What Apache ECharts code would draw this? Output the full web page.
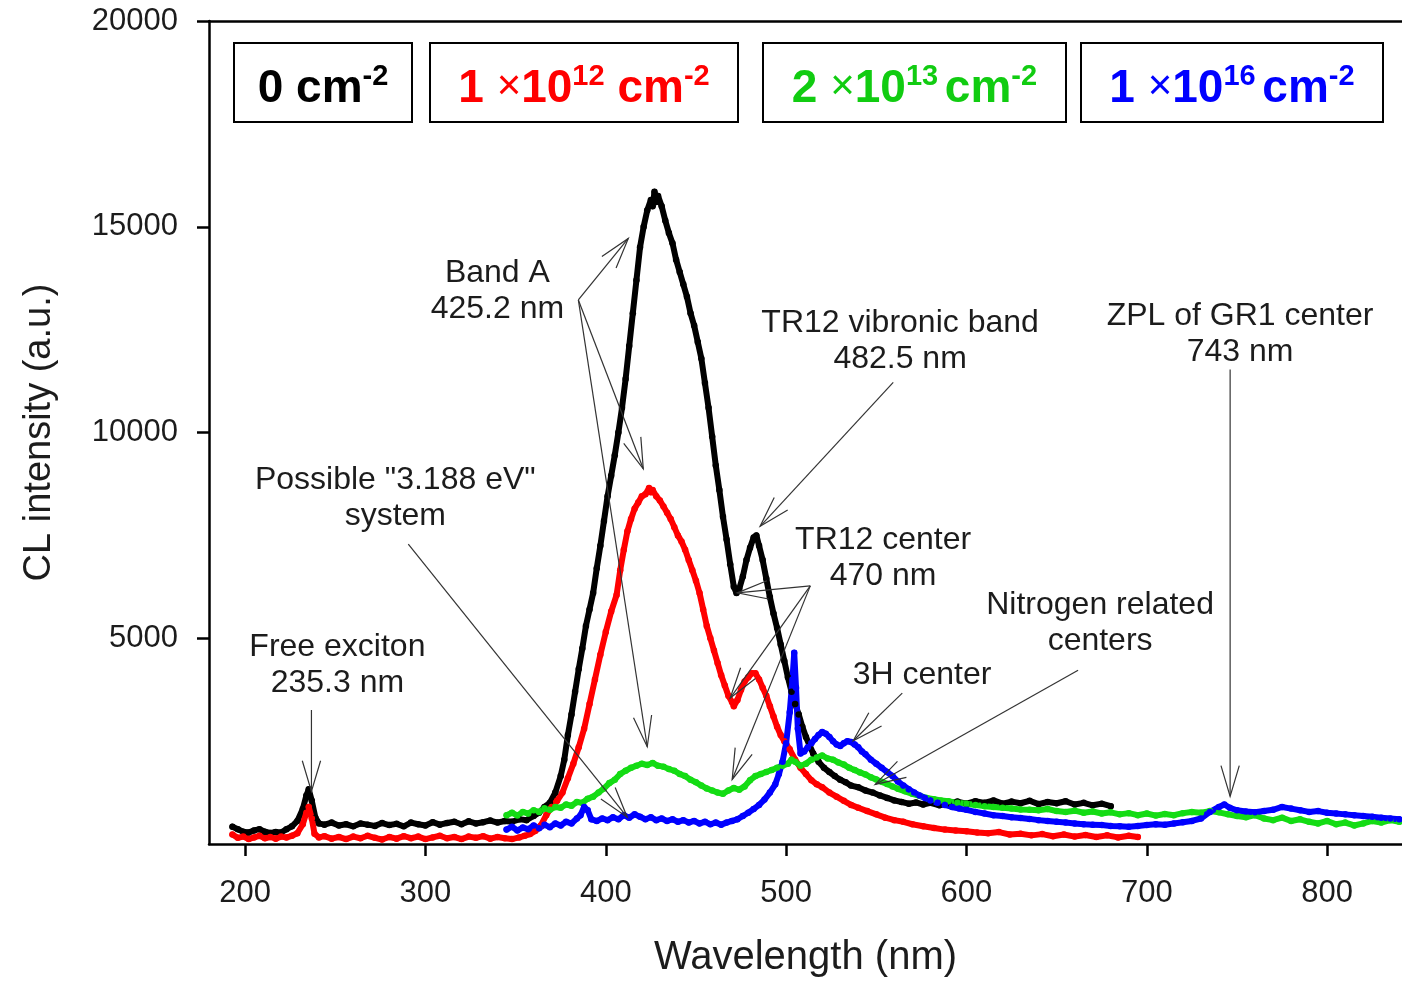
<!DOCTYPE html>
<html>
<head>
<meta charset="utf-8">
<script src="https://cdn.jsdelivr.net/npm/echarts@6/dist/echarts.min.js"></script>
<style>
  html, body { margin: 0; padding: 0; background: #fff; }
  #chart { width: 1402px; height: 983px; }
</style>
</head>
<body>
<div id="chart"></div>
<script>
// Cathodoluminescence spectra of diamond after implantation at four fluences.
// Each spectrum is a list of [wavelength (nm), CL intensity (a.u.)] pairs.

const xTicks = [200, 300, 400, 500, 600, 700, 800];
const yTicks = [5000, 10000, 15000, 20000];

const fluenceLabels = ['0 cm-2', '1 x10^12 cm-2', '2 x10^13 cm-2', '1 x10^16 cm-2'];

// 0 cm^-2 (unimplanted)
const spec0 = [
  [193,420],[196,360],[199,300],[202,280],[205,330],[208,360],[211,300],[214,270],[217,290],[220,280],
  [223,360],[226,430],[229,560],[232,850],[234,1180],[235.3,1330],[237,1050],[239,640],[241,500],[244,470],
  [248,520],[252,450],[256,480],[260,430],[264,500],[268,470],[272,440],[276,510],[280,460],[284,490],
  [288,430],[292,520],[296,480],[300,450],[304,530],[308,470],[312,510],[316,540],[320,480],[324,550],
  [328,500],[332,530],[336,570],[340,520],[344,560],[348,540],[352,600],[356,580],[360,680],[363,760],
  [366,900],[369,1000],[372,1250],[375,1650],[377,2050],[379,2650],[381,3150],[383,3700],[385,4250],[387,4750],
  [389,5300],[391,5700],[393,6100],[395,6700],[397,7250],[399,7850],[401,8450],[403,8950],[405,9450],[407,10000],
  [409,10600],[411,11300],[413,12100],[415,12900],[417,13700],[419,14500],[421,15000],[423,15400],[425,15650],[426,15500],
  [427,15850],[428,15600],[429,15750],[431,15500],[433,15150],[435,14850],[437,14600],[439,14200],[441,13900],[443,13600],
  [445,13300],[447,12900],[449,12600],[451,12200],[453,11800],[455,11200],[457,10600],[459,9900],[461,9200],[463,8600],
  [465,7950],[467,7400],[469,6800],[471,6250],[472.5,6100],[474,6200],[476,6500],[478,6900],[480,7200],[482,7450],
  [483.5,7500],[485,7250],[487,6900],[489,6450],[491,6000],[493,5600],[495,5250],[497,4850],[499,4450],[501,4050],
  [503,3700],[505,3400],[507,3150],[509,2850],[511,2600],[513,2400],[515,2200],[518,2000],[521,1850],[524,1750],
  [527,1650],[530,1560],[533,1500],[536,1420],[540,1380],[544,1300],[548,1250],[552,1180],[556,1120],[560,1060],
  [564,1020],[568,980],[572,1010],[576,960],[580,1000],[585,940],[590,990],[595,1030],[600,980],[605,1040],
  [610,1000],[615,1060],[620,980],[625,1030],[630,990],[635,1050],[640,970],[645,1020],[650,990],[655,1040],
  [660,960],[665,1000],[670,940],[675,980],[680,920]
];

// 1 x 10^12 cm^-2
const spec12 = [
  [193,230],[196,150],[199,180],[202,120],[205,160],[208,200],[211,140],[214,170],[217,130],[220,180],
  [223,160],[226,200],[229,260],[232,480],[234,760],[235.3,900],[237,620],[238.5,250],[241,160],[244,190],
  [248,130],[252,170],[256,120],[260,180],[264,140],[268,200],[272,150],[276,110],[280,170],[284,130],
  [288,190],[292,140],[296,180],[300,120],[304,160],[308,200],[312,140],[316,170],[320,120],[324,180],
  [328,150],[332,190],[336,130],[340,170],[344,140],[348,120],[352,160],[355,200],[358,240],[361,320],
  [364,450],[367,700],[370,900],[373,1050],[376,1250],[379,1600],[382,1950],[385,2350],[388,2800],[391,3400],
  [394,4000],[397,4600],[400,5150],[403,5650],[406,6050],[408,6650],[410,7150],[412,7600],[414,7900],[416,8150],
  [418,8300],[420,8450],[422,8500],[424,8650],[425,8550],[426,8600],[428,8450],[430,8350],[432,8200],[434,8050],
  [436,7900],[438,7700],[440,7500],[442,7350],[444,7150],[446,6900],[448,6650],[450,6400],[452,6100],[454,5700],
  [456,5300],[458,5000],[460,4700],[462,4400],[464,4100],[466,3850],[468,3600],[470,3450],[471,3350],[473,3500],
  [475,3750],[477,3950],[479,4050],[481,4150],[483,4150],[485,4000],[487,3800],[489,3600],[491,3350],[493,3100],
  [495,2850],[497,2650],[499,2500],[502,2300],[505,2050],[508,1850],[511,1700],[514,1550],[517,1450],[520,1380],
  [524,1250],[528,1150],[532,1050],[536,950],[540,880],[545,800],[550,720],[555,640],[560,580],[565,540],
  [570,480],[576,430],[582,390],[588,350],[594,330],[600,310],[606,280],[612,260],[618,290],[624,230],
  [630,250],[636,210],[642,240],[648,190],[654,230],[660,180],[666,220],[672,170],[678,210],[684,160],
  [690,200],[695,170]
];

// 2 x 10^13 cm^-2
const spec13 = [
  [345,700],[348,760],[351,690],[354,780],[357,740],[360,820],[363,780],[366,870],[369,830],[372,900],
  [375,880],[378,960],[381,930],[384,1020],[387,1000],[390,1100],[393,1150],[396,1250],[399,1350],[402,1480],
  [405,1560],[408,1700],[411,1780],[414,1850],[417,1900],[420,1950],[423,1920],[426,1970],[429,1900],[432,1880],
  [435,1820],[438,1780],[441,1700],[444,1650],[447,1560],[450,1500],[453,1420],[456,1350],[459,1300],[462,1250],
  [465,1220],[468,1300],[471,1360],[474,1320],[477,1400],[480,1550],[483,1650],[486,1700],[489,1750],[492,1800],
  [495,1850],[498,1900],[501,1950],[503,2050],[505,2000],[508,1900],[511,1950],[514,2050],[517,2100],[520,2150],
  [523,2080],[526,2050],[529,1980],[532,1930],[535,1850],[538,1800],[541,1740],[544,1690],[547,1620],[550,1570],
  [553,1510],[556,1460],[559,1400],[562,1340],[566,1280],[570,1220],[574,1170],[578,1120],[582,1090],[586,1060],
  [590,1040],[595,1000],[600,980],[605,950],[610,920],[615,900],[620,880],[625,860],[630,840],[635,830],
  [640,820],[645,850],[650,800],[655,780],[660,810],[665,760],[670,790],[675,740],[680,770],[685,720],
  [690,750],[695,700],[700,740],[705,690],[710,730],[715,700],[720,750],[725,780],[730,760],[735,800],
  [740,770],[745,720],[750,680],[755,650],[760,700],[765,620],[770,580],[775,640],[780,560],[785,600],
  [790,540],[795,500],[800,560],[805,480],[810,520],[815,450],[820,500],[825,560],[830,520],[835,580],
  [840,540]
];

// 1 x 10^16 cm^-2
const spec16 = [
  [345,350],[348,420],[351,330],[354,400],[357,360],[360,450],[363,380],[366,470],[369,410],[372,500],
  [375,450],[378,540],[381,500],[384,620],[386,700],[388,900],[390,820],[392,600],[395,560],[398,620],
  [401,580],[404,650],[407,600],[410,700],[413,640],[416,720],[419,660],[422,600],[425,650],[428,580],
  [431,620],[434,560],[437,600],[440,540],[443,580],[446,520],[449,560],[452,500],[455,540],[458,480],
  [461,520],[464,470],[467,520],[470,560],[473,600],[476,680],[479,760],[482,850],[485,950],[488,1080],
  [491,1250],[494,1450],[496,1700],[498,2000],[500,2450],[502,3200],[503.5,4000],[504.5,4650],[505.5,3800],[506.5,2800],
  [508,2200],[510,2250],[512,2350],[514,2450],[516,2550],[518,2650],[520,2720],[522,2680],[524,2600],[526,2500],
  [528,2420],[530,2380],[532,2450],[534,2500],[536,2480],[538,2420],[540,2350],[542,2250],[544,2180],[547,2050],
  [550,1950],[553,1850],[556,1750],[559,1650],[562,1520],[565,1420],[568,1330],[571,1250],[574,1180],[577,1120],
  [580,1060],[584,1000],[588,950],[592,900],[596,860],[600,830],[605,780],[610,740],[615,700],[620,680],
  [625,650],[630,630],[635,610],[640,580],[645,560],[650,540],[655,520],[660,500],[665,480],[670,470],
  [675,460],[680,440],[685,430],[690,420],[695,440],[700,460],[705,480],[710,470],[715,500],[720,530],
  [725,560],[730,620],[735,780],[740,900],[743,960],[746,880],[750,820],[755,790],[760,770],[765,800],
  [770,830],[775,900],[780,860],[785,820],[790,780],[795,800],[800,760],[805,740],[810,720],[815,700],
  [820,680],[825,660],[830,640],[835,620],[840,600]
];

// Feature annotations, anchored in data space: text lines centred at `at`,
// leader lines drawn from `from` to each arrow tip.
const notes = [
  { lines: ['Free exciton', '235.3 nm'], at: [251.2, 4777], from: [236.8, 3257], tips: [[236.8, 1279]] },
  { lines: ['Band A', '425.2 nm'], at: [339.9, 13872], from: [384.8, 13221],
    tips: [[412.5, 14716], [420.8, 9119], [423.0, 2364]] },
  { lines: ['Possible "3.188 eV"', 'system'], at: [283.3, 8830], from: [290.5, 7286], tips: [[411.9, 651]] },
  { lines: ['TR12 vibronic band', '482.5 nm'], at: [563.2, 12666], from: [559.4, 11218], tips: [[485.6, 7720]] },
  { lines: ['TR12 center', '470 nm'], at: [553.8, 7382], from: [513.4, 6273],
    tips: [[472.9, 6104], [469.0, 3546], [470.1, 1568]] },
  { lines: ['3H center'], at: [575.4, 4101], from: [564.4, 3667], tips: [[537.2, 2509]] },
  { lines: ['Nitrogen related', 'centers'], at: [674.1, 5814], from: [661.9, 4222], tips: [[549.4, 1448]] },
  { lines: ['ZPL of GR1 center', '743 nm'], at: [751.7, 12835], from: [746.2, 11532], tips: [[746.2, 1158]] }
];

const FONT = '"Liberation Sans", Arial, sans-serif';
const INK = '#1c1c1c';
const COLORS = ['#000000', '#ff0000', '#14dc14', '#0000ff'];

const chart = echarts.init(document.getElementById('chart'), null, { renderer: 'canvas' });

const axisLineStyle = { color: '#000', width: 2.5 };

function spectrumSeries(name, data, color) {
  return {
    name: name,
    type: 'line',
    data: data,
    showSymbol: true,
    symbol: 'circle',
    symbolSize: 6.5,
    smooth: false,
    lineStyle: { color: color, width: 6, join: 'round', cap: 'round' },
    itemStyle: { color: color, borderWidth: 0 },
    emphasis: { disabled: true },
    clip: true
  };
}

chart.setOption({
  animation: false,
  backgroundColor: '#ffffff',
  grid: { left: 209, right: 0, top: 21, bottom: 133, containLabel: false },
  xAxis: [
    {
      type: 'value', min: 180, max: 841.5,
      axisLine: { show: true, onZero: false, lineStyle: axisLineStyle },
      axisTick: { show: true, customValues: xTicks, length: 12, lineStyle: axisLineStyle },
      axisLabel: { customValues: xTicks, margin: 34, fontSize: 31, fontFamily: FONT, color: INK },
      splitLine: { show: false },
      name: 'Wavelength (nm)', nameLocation: 'middle', nameGap: 94,
      nameTextStyle: { fontSize: 40, fontFamily: FONT, color: INK }
    },
    {
      type: 'value', position: 'top', min: 180, max: 841.5,
      axisLine: { show: true, onZero: false, lineStyle: axisLineStyle },
      axisTick: { show: false }, axisLabel: { show: false }, splitLine: { show: false }
    }
  ],
  yAxis: {
    type: 'value', min: 0, max: 20000,
    axisLine: { show: true, onZero: false, lineStyle: axisLineStyle },
    axisTick: { show: true, customValues: yTicks, length: 12, lineStyle: axisLineStyle },
    axisLabel: {
      customValues: yTicks, margin: 31, fontSize: 31, fontFamily: FONT, color: INK,
      formatter: function (v) { return String(v); }
    },
    splitLine: { show: false },
    name: 'CL intensity (a.u.)', nameLocation: 'middle', nameGap: 150,
    nameTextStyle: { fontSize: 38, fontFamily: FONT, color: INK }
  },
  series: [
    spectrumSeries(fluenceLabels[0], spec0, COLORS[0]),
    spectrumSeries(fluenceLabels[1], spec12, COLORS[1]),
    spectrumSeries(fluenceLabels[2], spec13, COLORS[2]),
    spectrumSeries(fluenceLabels[3], spec16, COLORS[3])
  ]
});

// ---- annotations and fluence boxes ----
function toPx(p) { return chart.convertToPixel({ gridIndex: 0 }, p); }

function arrowHead(tip, from, len, half) {
  const dx = from[0] - tip[0], dy = from[1] - tip[1];
  const d = Math.hypot(dx, dy) || 1;
  const ux = dx / d, uy = dy / d;
  const c = Math.cos(half), s = Math.sin(half);
  return [
    [tip[0] + len * (ux * c - uy * s), tip[1] + len * (ux * s + uy * c)],
    [tip[0], tip[1]],
    [tip[0] + len * (ux * c + uy * s), tip[1] + len * (-ux * s + uy * c)]
  ];
}

const graphics = [];
const LINE_H = 36;

notes.forEach(function (n) {
  const at = toPx(n.at);
  n.lines.forEach(function (t, i) {
    graphics.push({
      type: 'text', z: 100,
      style: {
        text: t, x: at[0], y: at[1] + i * LINE_H,
        fontSize: 32, fontFamily: FONT, fill: INK,
        textAlign: 'center', textVerticalAlign: 'middle'
      }
    });
  });
  const from = toPx(n.from);
  n.tips.forEach(function (tp) {
    const tip = toPx(tp);
    graphics.push({
      type: 'line', z: 90,
      shape: { x1: from[0], y1: from[1], x2: tip[0], y2: tip[1] },
      style: { stroke: '#333', lineWidth: 1.2 }
    });
    graphics.push({
      type: 'polyline', z: 90,
      shape: { points: arrowHead(tip, from, 32, 0.29) },
      style: { stroke: '#333', lineWidth: 1.2, fill: null }
    });
  });
});

// fluence boxes across the top of the plot
const boxes = [
  { x: 234, w: 178, text: '{b|0 cm}{s|-2}', color: COLORS[0] },
  { x: 430, w: 308, text: '{b|1 }{x|\u00d7}{b|10}{s|12}{b| cm}{s|-2}', color: '#ff0000' },
  { x: 763, w: 303, text: '{b|2 }{x|\u00d7}{b|10}{s|13}{g| }{b|cm}{s|-2}', color: '#11cc11' },
  { x: 1081, w: 302, text: '{b|1 }{x|\u00d7}{b|10}{s|16}{g| }{b|cm}{s|-2}', color: '#0000ff' }
];
boxes.forEach(function (b) {
  graphics.push({
    type: 'rect', z: 100,
    shape: { x: b.x, y: 43, width: b.w, height: 79 },
    style: { fill: '#fff', stroke: '#000', lineWidth: 2 }
  });
  graphics.push({
    type: 'text', z: 101,
    style: {
      text: b.text, x: b.x + b.w / 2, y: 87,
      textAlign: 'center', textVerticalAlign: 'middle',
      rich: {
        b: { fontSize: 46, fontWeight: 'bold', fontFamily: FONT, fill: b.color, lineHeight: 50, verticalAlign: 'bottom' },
        s: { fontSize: 29, fontWeight: 'bold', fontFamily: FONT, fill: b.color, lineHeight: 16, verticalAlign: 'top' },
        x: { fontSize: 42, fontWeight: 'normal', fontFamily: FONT, fill: b.color, lineHeight: 50 },
        g: { fontSize: 24, fill: b.color, lineHeight: 50 }
      }
    }
  });
});

chart.setOption({ graphic: graphics });
</script>
</body>
</html>
